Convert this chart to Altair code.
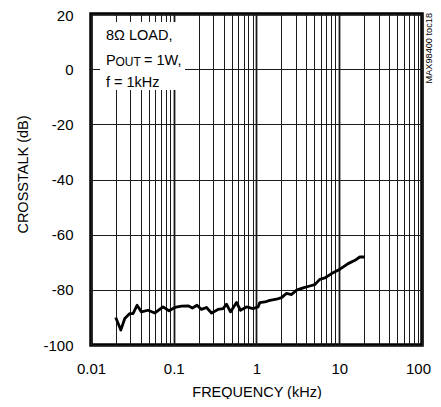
import altair as alt
import pandas as pd

# ---- data ----
freq_khz = [0.0199, 0.0229, 0.0256, 0.0294, 0.0322, 0.036, 0.0407, 0.0489, 0.0589,
            0.0742, 0.0877, 0.1028, 0.124, 0.149, 0.168, 0.191, 0.216, 0.249, 0.286,
            0.343, 0.395, 0.434, 0.485, 0.573, 0.641, 0.757, 0.910, 1.045, 1.096,
            1.26, 1.449, 1.745, 2.006, 2.306, 2.65, 3.05, 3.66, 4.41, 5.07, 5.82,
            6.70, 8.07, 10.2, 12.8, 15.5, 17.7, 20.4]
crosstalk_db = [-90.0, -94.6, -90.4, -88.6, -88.6, -85.6, -88.0, -87.4, -88.4,
                -86.2, -87.6, -86.4, -85.9, -85.8, -86.6, -85.6, -87.1, -86.4, -88.4,
                -87.1, -86.8, -85.2, -88.0, -84.6, -87.4, -86.2, -86.8, -86.2, -84.6,
                -84.4, -83.8, -83.4, -82.8, -81.3, -81.7, -80.1, -79.3, -78.6, -78.1, -76.2,
                -75.7, -74.1, -72.5, -70.5, -69.3, -68.1, -68.1]

x_grid_values = [m * 10.0 ** e for e in (-2, -1, 0, 1) for m in range(1, 10)] + [100.0]
y_tick_values = [-100, -80, -60, -40, -20, 0, 20]

note_lines = ["8Ω LOAD,", "f = 1kHz"]
note_pout = ["P", "OUT", "= 1W,"]
side_label = "MAX98400 toc18"

FONT = "Liberation Sans, Arial, Helvetica, sans-serif"

df = pd.DataFrame({"f": freq_khz, "db": crosstalk_db})

W, H = 331, 331
IS_DECADE = "abs(log(datum.value)/LN10 - round(log(datum.value)/LN10)) < 0.001"

base = alt.Chart(df).mark_line(color="black", strokeWidth=2.8, strokeJoin="round").encode(
    x=alt.X("f:Q",
            scale=alt.Scale(type="log", domain=[0.01, 100], nice=False),
            axis=alt.Axis(values=x_grid_values, grid=True, ticks=False, domain=False,
                          labelExpr=IS_DECADE + " ? format(datum.value, '~g') : ''",
                          gridWidth={"condition": {"test": IS_DECADE, "value": 1.8}, "value": 1},
                          labelOffset={"condition": {"test": "datum.value >= 100", "value": -4}, "value": 0},
                          labelOverlap=False, labelFlush=False, labelPadding=16,
                          title="FREQUENCY (kHz)", titlePadding=9)),
    y=alt.Y("db:Q",
            scale=alt.Scale(domain=[-100, 20], nice=False),
            axis=alt.Axis(values=y_tick_values, grid=True, ticks=False, domain=False,
                          labelExpr="toString(datum.value)",
                          labelOffset={"condition": {"test": "datum.value >= 20", "value": 1.5}, "value": 0},
                          labelPadding=18, title="CROSSTALK (dB)", titlePadding=12,
                          titleY=160)),
)

one = pd.DataFrame({"k": [0]})

box = alt.Chart(one).mark_rect(color="white").encode(
    x=alt.value(9), x2=alt.value(94), y=alt.value(8), y2=alt.value(76))

def txt(s, x, y, size=14.5, **kw):
    return alt.Chart(one).mark_text(text=s, font=FONT, fontSize=size, align="left",
                                    baseline="alphabetic", color="black", **kw).encode(
        x=alt.value(x), y=alt.value(y))

t1 = txt(note_lines[0], 15, 26)
t2a = txt(note_pout[0], 15, 51)
t2b = txt(note_pout[1], 24.5, 51.5, size=12)
t2c = txt(note_pout[2], 53, 51)
t3 = txt(note_lines[1], 15, 73)

side = alt.Chart(one).mark_text(text=side_label, font=FONT, fontSize=9.2, angle=270,
                                align="right", baseline="middle", color="black").encode(
    x=alt.value(W + 7), y=alt.value(-1))

chart = alt.layer(base, box, t1, t2a, t2b, t2c, t3, side).properties(
    width=W, height=H,
    autosize=alt.AutoSizeParams(type="none"),
    padding={"left": 83, "top": 6, "right": 11, "bottom": 54},
).configure_view(stroke="black", strokeWidth=3.5).configure_axis(
    gridColor="#1a1a1a", gridOpacity=1, gridWidth=1,
    labelFont=FONT, labelFontSize=15, labelColor="black",
    titleFont=FONT, titleFontSize=14.5, titleFontWeight="normal", titleColor="black",
)

chart.save("out.html", embed_options={"renderer": "svg", "actions": False})
